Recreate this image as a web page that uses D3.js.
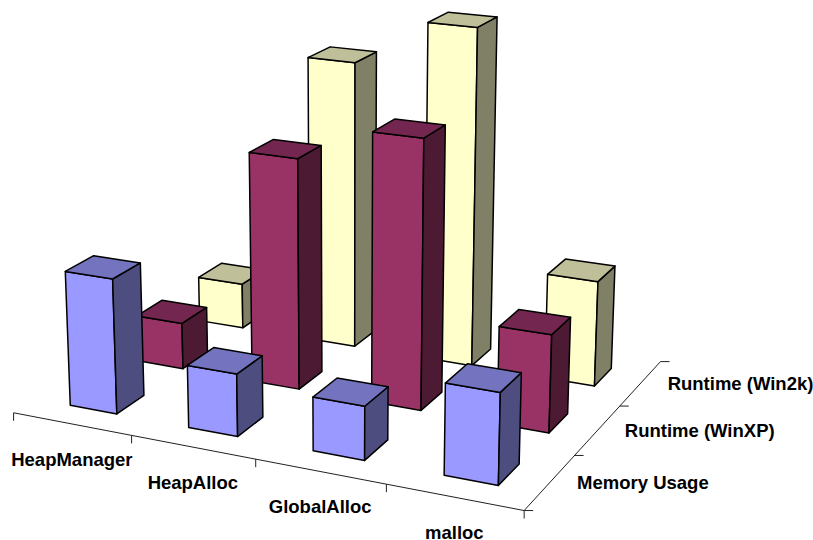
<!DOCTYPE html>
<html><head><meta charset="utf-8"><script src="https://cdnjs.cloudflare.com/ajax/libs/d3/7.8.5/d3.min.js"></script>
<style>html,body{margin:0;background:#fff}svg{display:block}
.lbl{font-family:"Liberation Sans",Arial,sans-serif;font-weight:700;font-size:18.5px;fill:#000}</style></head>
<body><svg id="chart" width="813" height="540"></svg>
<script>
// Allocator benchmark results, one list per measured quantity.
const categories = ["HeapManager", "HeapAlloc", "GlobalAlloc", "malloc"];
const seriesNames = ["Memory Usage", "Runtime (WinXP)", "Runtime (Win2k)"];
const memoryUsage = [136.2, 62.3, 52.9, 88.4];
const runtimeWinXP = [48.4, 235.3, 270.8, 97.8];
const runtimeWin2k = [48.6, 300.7, 348.9, 108.6];
const seriesValues = [memoryUsage, runtimeWinXP, runtimeWin2k];

// Face shades per series: front, right side, top.
const palette = [
  { front: "#9999ff", side: "#4d4d80", top: "#7373bf" },
  { front: "#993366", side: "#4d1a33", top: "#732650" },
  { front: "#ffffcc", side: "#808066", top: "#bfbf99" }
];

// Camera: homogeneous 3x4 projection from (column, depth, height) to the page.
const camera = [
  [114.8022, 75.6435, -0.04542608, 13.57869],
  [11.9358, -25.81287, -1.025865, 412.7816],
  [-0.02449419, 0.05246378, -0.0001314375, 1]
];
function project(x, z, y) {
  const v = [x, z, y, 1];
  const dot = row => d3.sum(row, (c, i) => c * v[i]);
  const w = dot(camera[2]);
  return [dot(camera[0]) / w, dot(camera[1]) / w];
}

const xBand = d3.scaleBand().domain(categories).range([0, 4]).paddingInner(0.6009).paddingOuter(0.30045);
const zBand = d3.scaleBand().domain(seriesNames).range([0, 3]).paddingInner(0.6024).paddingOuter(0.3012);
const height = d3.scaleLinear().domain([0, 350]).range([0, 350]);
const svg = d3.select("#chart");
const line = d3.line();

// Floor axes with their outward tick marks.
const axes = svg.append("g").attr("fill", "none").attr("stroke", "#222").attr("stroke-width", 1);
axes.append("path").attr("d", line([project(0, 0, 0), project(4, 0, 0), project(4, 3, 0)]));
d3.range(0, 5).forEach(t => {
  const p = project(t, 0, 0);
  axes.append("path").attr("d", line([p, [p[0], p[1] + 8]]));
});
d3.range(0, 4).forEach(t => {
  const p = project(4, t, 0);
  axes.append("path").attr("d", line([p, [p[0] + 9, p[1]]]));
});

// Bars, painted from the back row forward and left to right within a row.
const bars = seriesNames.flatMap((s, j) => categories.map((c, i) => ({ c, s, j, value: seriesValues[j][i] })));
bars.sort((a, b) => b.j - a.j || categories.indexOf(a.c) - categories.indexOf(b.c));

const barG = svg.selectAll("g.bar").data(bars).join("g").attr("class", "bar")
  .attr("stroke", "#000").attr("stroke-width", 1.5).attr("stroke-linejoin", "round");

barG.each(function (d) {
  const x0 = xBand(d.c), x1 = x0 + xBand.bandwidth();
  const z0 = zBand(d.s), z1 = z0 + zBand.bandwidth();
  const h = height(d.value);
  const colors = palette[d.j];
  const face = (pts, fill) => d3.select(this).append("path").attr("fill", fill).attr("d", line(pts) + "Z");
  face([project(x0, z0, h), project(x1, z0, h), project(x1, z0, 0), project(x0, z0, 0)], colors.front);
  face([project(x1, z0, h), project(x1, z1, h), project(x1, z1, 0), project(x1, z0, 0)], colors.side);
  face([project(x0, z0, h), project(x1, z0, h), project(x1, z1, h), project(x0, z1, h)], colors.top);
});

// Category labels sit below the front edge, series labels to the right of the side edge.
svg.selectAll("text.cat").data(categories).join("text").attr("class", "cat lbl")
  .attr("text-anchor", "middle")
  .attr("x", c => project(xBand(c) + xBand.bandwidth() / 2, 0, 0)[0])
  .attr("y", c => project(xBand(c) + xBand.bandwidth() / 2, 0, 0)[1] + 42)
  .text(c => c);
svg.selectAll("text.ser").data(seriesNames).join("text").attr("class", "ser lbl")
  .attr("x", s => project(4, zBand(s) + zBand.bandwidth() / 2, 0)[0] + 27)
  .attr("y", s => project(4, zBand(s) + zBand.bandwidth() / 2, 0)[1] + 6.5)
  .text(s => s);
</script></body></html>
